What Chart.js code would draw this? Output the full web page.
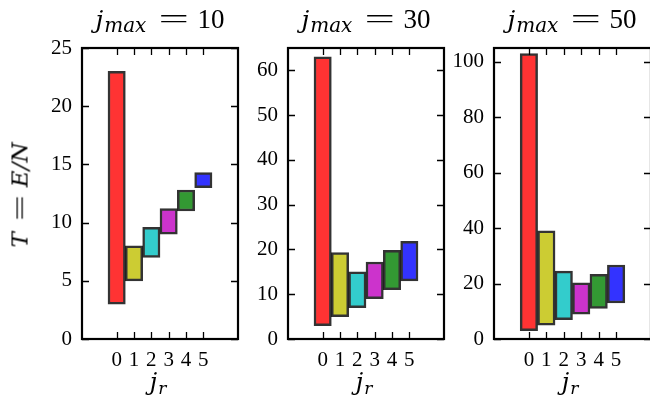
<!DOCTYPE html>
<html>
<head>
<meta charset="utf-8">
<script src="https://cdn.jsdelivr.net/npm/chart.js@4.4.1/dist/chart.umd.min.js"></script>
<style>
  html, body { margin: 0; padding: 0; background: #fff; }
  body { width: 650px; height: 405px; position: relative; overflow: hidden; font-family: "Liberation Serif", serif; color: #000; }
  canvas { position: absolute; top: 0; }
  .m { font-family: "DejaVu Serif", serif; font-style: italic; line-height: 0; }
  .eq { display: inline-block; line-height: 0; transform: scaleX(2); }
  .ttl, .xlab { position: absolute; width: 156px; text-align: center; white-space: nowrap; }
  .ttl { top: 6px; font-size: 27px; line-height: 27px; }
  .ttl .j { font-size: 25px; }
  .ttl .sub { font-size: 20px; position: relative; top: 4px; margin-left: 1px; }
  .ttl .eq { margin: 0 16px 0 20px; }
  .xlab { top: 370px; font-size: 24px; line-height: 24px; padding-right: 4px; box-sizing: border-box; }
  .xlab .j { font-size: 24px; }
  .xlab .sub { font-size: 17px; position: relative; top: 4px; margin-left: 1px; }
  .ylab { position: absolute; left: 20px; top: 195px; font-size: 23px; line-height: 23px; white-space: nowrap;
          transform: translate(-50%, -50%) rotate(-90deg); }
  .ylab .m { font-size: 23px; }
  .ylab .eq { font-size: 23px; margin: 0 14px 0 18px; }
</style>
</head>
<body>
<canvas id="c10" width="240" height="405" style="left:0px"></canvas>
<canvas id="c30" width="206" height="405" style="left:240px"></canvas>
<canvas id="c50" width="206" height="405" style="left:446px"></canvas>

<div class="ttl" style="left:82px"><span class="m j">j</span><span class="m sub">max</span><span class="eq">=</span>10</div>
<div class="ttl" style="left:288px"><span class="m j">j</span><span class="m sub">max</span><span class="eq">=</span>30</div>
<div class="ttl" style="left:494px"><span class="m j">j</span><span class="m sub">max</span><span class="eq">=</span>50</div>

<div class="xlab" style="left:82px"><span class="m j">j</span><span class="m sub">r</span></div>
<div class="xlab" style="left:288px"><span class="m j">j</span><span class="m sub">r</span></div>
<div class="xlab" style="left:494px"><span class="m j">j</span><span class="m sub">r</span></div>

<div class="ylab"><span class="m">T</span><span class="eq">=</span><span class="m">E</span><span class="m">/</span><span class="m">N</span></div>

<script>
// rotational levels j_r and the energy band (low..high) of each
const jr = [0, 1, 2, 3, 4, 5];
const low10 = [3, 5, 7, 9, 11, 13];
const high10 = [23, 8, 9.6, 11.2, 12.8, 14.3];
const low30 = [3, 5, 7, 9, 11, 13];
const high30 = [63, 19.3, 15, 17.2, 19.8, 21.8];
const low50 = [3, 5, 7, 9, 11, 13];
const high50 = [103, 39, 24.5, 20.3, 23.3, 26.7];

const yTicks10 = [0, 5, 10, 15, 20, 25];
const yTicks30 = [0, 10, 20, 30, 40, 50, 60];
const yTicks50 = [0, 20, 40, 60, 80, 100];

const BAR_COLORS = ['#ff3333', '#cccc33', '#33cccc', '#cc33cc', '#339933', '#3333ff'];
const FONT = { family: '"Liberation Serif", serif', size: 21 };

// box around the plot area with inward ticks on all four sides
const frameTicks = {
    id: 'frameTicks',
    afterDraw(chart) {
        const { ctx, chartArea: { left, right, top, bottom }, scales: { x, y } } = chart;
        const len = 7;
        ctx.save();
        ctx.strokeStyle = '#000';
        ctx.lineWidth = 1.3;
        ctx.beginPath();
        x.ticks.forEach(t => {
            const px = Math.round(x.getPixelForValue(t.value)) + 0.5;
            ctx.moveTo(px, bottom); ctx.lineTo(px, bottom - len);
            ctx.moveTo(px, top); ctx.lineTo(px, top + len);
        });
        y.ticks.forEach(t => {
            const py = Math.round(y.getPixelForValue(t.value)) + 0.5;
            ctx.moveTo(left, py); ctx.lineTo(left + len, py);
            ctx.moveTo(right, py); ctx.lineTo(right - len, py);
        });
        ctx.stroke();
        ctx.lineWidth = 2.2;
        ctx.strokeRect(left, top, right - left, bottom - top);
        ctx.restore();
    }
};

function makePanel(id, lows, highs, yMax, yTicks, yWidth, padRight) {
    const data = jr.map((j, i) => ({ x: j, y: [lows[i], highs[i]] }));
    return new Chart(document.getElementById(id), {
        type: 'bar',
        data: {
            datasets: [{
                data,
                backgroundColor: BAR_COLORS,
                borderColor: 'rgba(0,0,0,0.8)',
                borderWidth: 2.5,
                borderSkipped: false,
                barPercentage: 1,
                categoryPercentage: 1
            }]
        },
        plugins: [frameTicks],
        options: {
            responsive: false,
            animation: false,
            layout: { padding: { top: 48, left: 0, right: padRight, bottom: 0 } },
            plugins: { legend: { display: false }, tooltip: { enabled: false } },
            scales: {
                x: {
                    type: 'linear', min: -2, max: 7, offset: false,
                    grid: { display: false, drawTicks: false }, border: { display: false },
                    ticks: { font: FONT, color: '#000', padding: 9, maxRotation: 0 },
                    afterBuildTicks: s => { s.ticks = jr.map(v => ({ value: v })); },
                    afterFit: s => { s.height = 66; }
                },
                y: {
                    type: 'linear', min: 0, max: yMax,
                    grid: { display: false, drawTicks: false }, border: { display: false },
                    ticks: { font: FONT, color: '#000', padding: 10 },
                    afterBuildTicks: s => { s.ticks = yTicks.map(v => ({ value: v })); },
                    afterFit: s => { s.width = yWidth; }
                }
            }
        }
    });
}

makePanel('c10', low10, high10, 25, yTicks10, 82, 2);
makePanel('c30', low30, high30, 65, yTicks30, 48, 2);
makePanel('c50', low50, high50, 105, yTicks50, 48, 1);
</script>
</body>
</html>
